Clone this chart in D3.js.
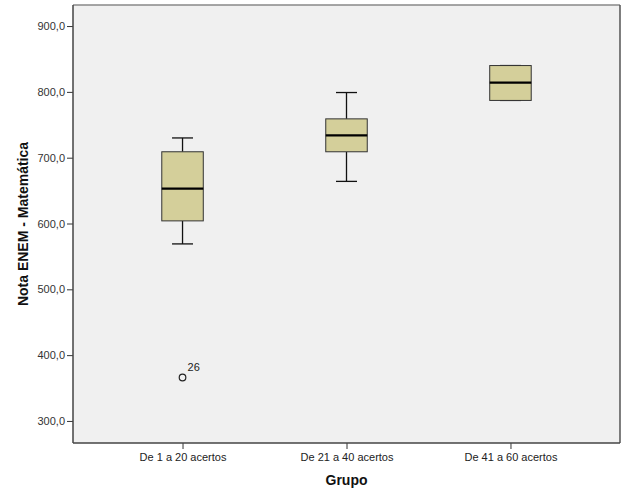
<!DOCTYPE html>
<html><head><meta charset="utf-8">
<script src="https://cdn.jsdelivr.net/npm/d3@7"></script>
<style>body{margin:0;background:#fff}svg{display:block}</style>
</head><body>
<script>
const categories = ["De 1 a 20 acertos", "De 21 a 40 acertos", "De 41 a 60 acertos"];
const whiskerLow  = [569, 664, 787];
const q1          = [604, 709, 787];
const median      = [653, 734, 814];
const q3          = [709, 759, 840];
const whiskerHigh = [730, 799, 840];
const outlierCat   = ["De 1 a 20 acertos"];
const outlierValue = [366];
const outlierLabel = ["26"];
const yTicks = [300, 400, 500, 600, 700, 800, 900];

const W = 627, H = 502;
const m = {left: 73, top: 5, right: 620, bottom: 443};
const svg = d3.select("body").append("svg").attr("width", W).attr("height", H);

const x = d3.scalePoint().domain(categories).range([m.left, m.right]).padding(0.668);
const y = d3.scaleLinear().domain([266.5, 932]).range([m.bottom, m.top]);

svg.append("rect").attr("x", m.left).attr("y", m.top)
  .attr("width", m.right - m.left).attr("height", m.bottom - m.top)
  .attr("fill", "#f0f0f0");

const fmt = d => d3.format(".1f")(d).replace(".", ",");
const yAxis = svg.append("g").attr("transform", `translate(${m.left},0)`)
  .call(d3.axisLeft(y).tickValues(yTicks).tickFormat(fmt).tickSize(6).tickPadding(2));
yAxis.select(".domain").remove();
yAxis.selectAll("line").attr("stroke", "#333");
yAxis.selectAll("text").attr("font-family", "Arial, 'Liberation Sans', sans-serif").attr("font-size", 11).attr("fill", "#333");

const xAxis = svg.append("g").attr("transform", `translate(0,${m.bottom})`)
  .call(d3.axisBottom(x).tickSize(6).tickPadding(4));
xAxis.select(".domain").remove();
xAxis.selectAll("line").attr("stroke", "#333");
xAxis.selectAll("text").attr("font-family", "Arial, 'Liberation Sans', sans-serif").attr("font-size", 11).attr("fill", "#222");

// frame
svg.append("line").attr("x1", m.left).attr("x2", m.right).attr("y1", m.top).attr("y2", m.top).attr("stroke", "#888").attr("stroke-width", 1.5);
svg.append("line").attr("x1", m.right).attr("x2", m.right).attr("y1", m.top).attr("y2", m.bottom).attr("stroke", "#555").attr("stroke-width", 1.5);
svg.append("line").attr("x1", m.left).attr("x2", m.left).attr("y1", m.top).attr("y2", m.bottom).attr("stroke", "#444").attr("stroke-width", 1.5);
svg.append("line").attr("x1", m.left).attr("x2", m.right).attr("y1", m.bottom).attr("y2", m.bottom).attr("stroke", "#444").attr("stroke-width", 1.5);

const boxW = 41.5, capW = 21;
const g = svg.append("g");
categories.forEach((c, i) => {
  const cx = x(c);
  g.append("line").attr("x1", cx).attr("x2", cx).attr("y1", y(whiskerHigh[i])).attr("y2", y(q3[i])).attr("stroke", "#111").attr("stroke-width", 1.3);
  g.append("line").attr("x1", cx).attr("x2", cx).attr("y1", y(q1[i])).attr("y2", y(whiskerLow[i])).attr("stroke", "#111").attr("stroke-width", 1.3);
  g.append("line").attr("x1", cx - capW/2).attr("x2", cx + capW/2).attr("y1", y(whiskerHigh[i])).attr("y2", y(whiskerHigh[i])).attr("stroke", "#111").attr("stroke-width", 1.3);
  g.append("line").attr("x1", cx - capW/2).attr("x2", cx + capW/2).attr("y1", y(whiskerLow[i])).attr("y2", y(whiskerLow[i])).attr("stroke", "#111").attr("stroke-width", 1.3);
  g.append("rect").attr("x", cx - boxW/2).attr("y", y(q3[i])).attr("width", boxW).attr("height", y(q1[i]) - y(q3[i]))
    .attr("fill", "#d4cf9a").attr("stroke", "#333").attr("stroke-width", 1);
  g.append("line").attr("x1", cx - boxW/2).attr("x2", cx + boxW/2).attr("y1", y(median[i])).attr("y2", y(median[i])).attr("stroke", "#000").attr("stroke-width", 2.2);
});

outlierCat.forEach((c, i) => {
  g.append("circle").attr("cx", x(c)).attr("cy", y(outlierValue[i])).attr("r", 3.3).attr("fill", "none").attr("stroke", "#222").attr("stroke-width", 1.2);
  g.append("text").attr("x", x(c) + 5).attr("y", y(outlierValue[i]) - 7).text(outlierLabel[i])
    .attr("font-family", "Arial, 'Liberation Sans', sans-serif").attr("font-size", 11).attr("fill", "#222");
});

svg.append("text").attr("x", (m.left + m.right)/2).attr("y", 485).attr("text-anchor", "middle")
  .attr("font-family", "Arial, 'Liberation Sans', sans-serif").attr("font-size", 14).attr("font-weight", "bold").attr("fill", "#111").text("Grupo");
svg.append("text").attr("transform", `translate(28,${(m.top + m.bottom)/2}) rotate(-90)`).attr("text-anchor", "middle")
  .attr("font-family", "Arial, 'Liberation Sans', sans-serif").attr("font-size", 14).attr("font-weight", "bold").attr("fill", "#111").text("Nota ENEM - Matemática");
</script>
</body></html>
